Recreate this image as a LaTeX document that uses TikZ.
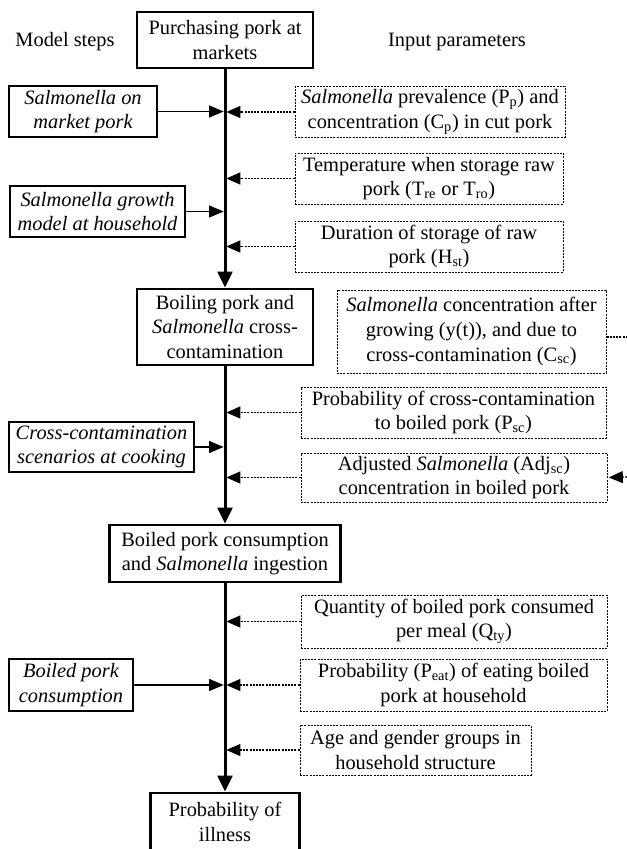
\documentclass[tikz,border=0pt]{standalone}
\usepackage{fontspec}
\setmainfont{Liberation Serif}
\usetikzlibrary{arrows.meta}

\begin{document}
\begin{tikzpicture}[x=0.75pt,y=0.75pt,yscale=-1,xscale=1,
    every node/.style={font=\fontsize{15.3}{18.4}\selectfont, align=center, inner sep=0pt},
    mainbox/.style={draw, line width=2pt},
    modelbox/.style={draw, line width=1pt, font=\fontsize{15.3}{18.4}\selectfont\itshape},
    inbox/.style={draw, line width=0.75pt, dash pattern=on 1.5pt off 0.9pt},
    mainarrow/.style={line width=2.25pt, -{Triangle[length=12pt,width=11pt]}},
    modelarrow/.style={line width=1pt, -{Triangle[length=11pt,width=9pt]}, shorten >=1pt},
    inline/.style={line width=0.9pt, dash pattern=on 1.5pt off 0.9pt},
    inarrow/.style={inline, -{Triangle[length=10.5pt,width=9pt]}, shorten >=1pt}]
    \useasboundingbox (0,0) rectangle (627,849);

    % Text Node
    \node (steps) at (65,42) {Model steps};
    % Text Node
    \node (params) at (457,42) {Input parameters};

    %Shape: main steps
    \node [mainbox, minimum width=132pt, minimum height=42pt] (top) at (225,40) {Purchasing pork at\\markets};
    \node [mainbox, minimum width=132pt, minimum height=57pt] (boil) at (225,327) {Boiling pork and\\\textit{Salmonella} cross-\\contamination};
    \node [mainbox, minimum width=173.25pt, minimum height=42.75pt] (cons) at (225,553.5) {Boiled pork consumption\\and \textit{Salmonella} ingestion};
    \node [mainbox, minimum width=111.75pt, minimum height=43.5pt] (ill) at (225,822) {Probability of\\illness};

    %Shape: model steps
    \node [modelbox, minimum width=111pt, minimum height=38.25pt] (ls1) at (83,111.5) {Salmonella on\\market pork};
    \node [modelbox, minimum width=131.25pt, minimum height=38.25pt] (ls2) at (97.5,211.5) {Salmonella growth\\model at household};
    \node [modelbox, minimum width=138.75pt, minimum height=37.5pt] (ls3) at (101.5,447) {Cross-contamination\\scenarios at cooking};
    \node [modelbox, minimum width=93pt, minimum height=39pt] (ls4) at (71,685) {Boiled pork\\consumption};

    %Shape: input parameters
    \node [inbox, minimum width=202.5pt, minimum height=37.5pt] (in1) at (430,112) {\textit{Salmonella} prevalence (P\textsubscript{p}) and\\concentration (C\textsubscript{p}) in cut pork};
    \node [inbox, minimum width=201pt, minimum height=38.25pt] (in2) at (429,178.5) {Temperature when storage raw\\pork (T\textsubscript{re} or T\textsubscript{ro})};
    \node [inbox, minimum width=201pt, minimum height=38.25pt] (in3) at (429,246.5) {Duration of storage of raw\\pork (H\textsubscript{st})};
    \node [inbox, minimum width=201.75pt, minimum height=62.25pt] (in4) at (471.5,331.5) {\textit{Salmonella} concentration after\\growing (y(t)), and due to\\cross-contamination (C\textsubscript{sc})};
    \node [inbox, minimum width=228.75pt, minimum height=38.25pt] (in5) at (453.5,412.5) {Probability of cross-contamination\\to boiled pork (P\textsubscript{sc})};
    \node [inbox, minimum width=229.5pt, minimum height=36.75pt] (in6) at (454,477.5) {Adjusted \textit{Salmonella} (Adj\textsubscript{sc})\\concentration in boiled pork};
    \node [inbox, minimum width=229.5pt, minimum height=39.75pt] (in7) at (454,621.5) {Quantity of boiled pork consumed\\per meal (Q\textsubscript{ty})};
    \node [inbox, minimum width=230.25pt, minimum height=39pt] (in8) at (453.5,685) {Probability (P\textsubscript{eat}) of eating boiled\\pork at household};
    \node [inbox, minimum width=173.25pt, minimum height=37.5pt] (in9) at (415.5,750) {Age and gender groups in\\household structure};

    % loop ends at the right edge
    \coordinate (loopout) at (627,337);
    \coordinate (loopin) at (627,477);

    %Straight Lines: main flow
    \draw [mainarrow] (top.south) -- (boil.north);
    \draw [mainarrow] (boil.south) -- (cons.north);
    \draw [mainarrow] (cons.south) -- (ill.north);

    %Straight Lines: model steps into the flow
    \foreach \m in {ls1,ls2,ls3,ls4}
        \draw [modelarrow] (\m.east) -- (\m.east -| top.south);

    %Straight Lines: parameters into the flow
    \foreach \p in {in1,in2,in3,in5,in6,in7,in8,in9}
        \draw [inarrow] (\p.west) -- (\p.west -| top.south);

    \draw [inline] (in4.east |- loopout) -- (loopout);
    \draw [inarrow] (loopin) -- (in6.east);

\end{tikzpicture}
\end{document}
